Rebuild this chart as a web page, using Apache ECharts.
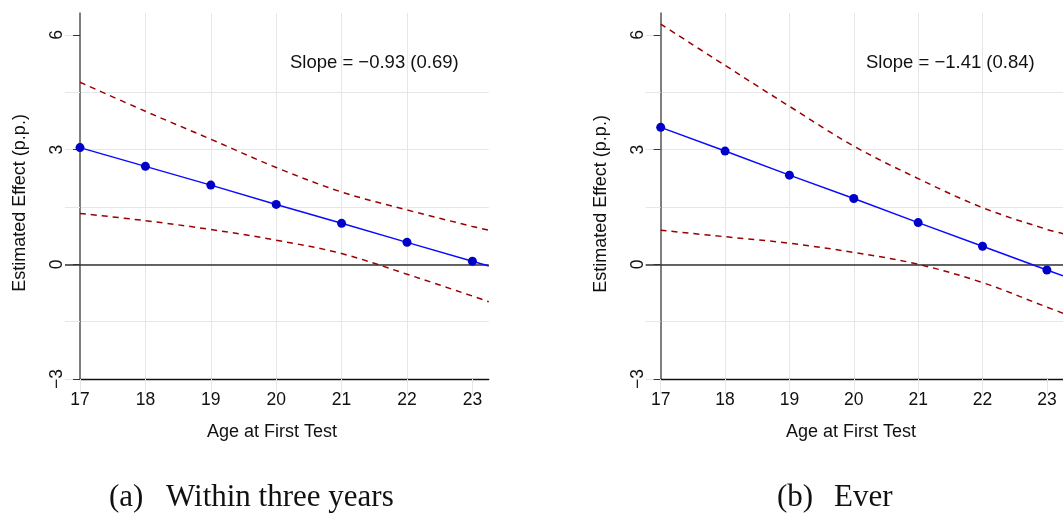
<!DOCTYPE html>
<html>
<head>
<meta charset="utf-8">
<script src="https://cdn.jsdelivr.net/npm/echarts@6/dist/echarts.min.js"></script>
<style>
  html, body { margin: 0; padding: 0; background: #ffffff; }
  #chart { width: 1063px; height: 513px; }
</style>
</head>
<body>
<div id="chart"></div>
<script>
// Ages at first test (x axis) and the right end of each x axis
const ages = [17, 18, 19, 20, 21, 22, 23];
const xEdge = 23.25;
const yTicks = [-3, 0, 3, 6];
const yGrid = [-3, -1.5, 0, 1.5, 3, 4.5, 6];

// Panel (a): within three years
const estA = [3.05, 2.56, 2.07, 1.565, 1.07, 0.573, 0.08];
const estAEdge = -0.045;
const upperA = [4.76, 4.00, 3.27, 2.53, 1.89, 1.42, 0.99];
const upperAEdge = 0.89;
const lowerA = [1.33, 1.14, 0.91, 0.63, 0.28, -0.26, -0.83];
const lowerAEdge = -0.98;
const slopeA = 'Slope = \u22120.93 (0.69)';

// Panel (b): ever
const estB = [3.58, 2.96, 2.33, 1.72, 1.09, 0.47, -0.15];
const estBEdge = -0.30;
const upperB = [6.28, 5.20, 4.13, 3.09, 2.24, 1.48, 0.91];
const upperBEdge = 0.80;
const lowerB = [0.89, 0.72, 0.55, 0.31, 0.00, -0.48, -1.12];
const lowerBEdge = -1.28;
const slopeB = 'Slope = \u22121.41 (0.84)';

const SANS = 'Liberation Sans, Arial, Helvetica, sans-serif';
const SERIF = 'Liberation Serif, Times New Roman, serif';
const GRID_COLOR = '#e6e6e6';

const Y_MIN = -3, Y_MAX = 6.57;

function pairs(vals, edge) {
  const out = ages.map((a, i) => [a, vals[i]]);
  out.push([xEdge, edge]);
  return out;
}

function xAxesFor(g) {
  return [
    {
      type: 'value', gridIndex: g, min: 17, max: xEdge, interval: 1, position: 'bottom',
      axisLine: { show: true, onZero: false, lineStyle: { color: '#111', width: 1.3 } },
      axisTick: { show: true, customValues: ages, length: 8, lineStyle: { color: '#444', width: 1 } },
      axisLabel: { show: true, customValues: ages, margin: 12, fontSize: 17.5, color: '#111', fontFamily: SANS },
      splitLine: { show: true, showMinLine: false, showMaxLine: false, lineStyle: { color: GRID_COLOR, width: 1 } }
    },
    {
      type: 'value', gridIndex: g, min: 17, max: xEdge, interval: 1, position: 'bottom',
      axisLine: { show: false, onZero: false },
      axisTick: { show: true, customValues: ages, length: 15, lineStyle: { color: GRID_COLOR, width: 1 } },
      axisLabel: { show: false },
      splitLine: { show: false }
    }
  ];
}

function yAxesFor(g) {
  return [
    {
      type: 'value', gridIndex: g, min: Y_MIN, max: Y_MAX, interval: 1.5, position: 'left',
      axisLine: { show: true, onZero: false, lineStyle: { color: '#555', width: 1.5 } },
      axisTick: { show: true, customValues: yGrid, length: 15, lineStyle: { color: GRID_COLOR, width: 1 } },
      axisLabel: { show: false },
      splitLine: { show: true, showMinLine: false, showMaxLine: false, lineStyle: { color: GRID_COLOR, width: 1 } }
    },
    {
      type: 'value', gridIndex: g, min: Y_MIN, max: Y_MAX, interval: 1.5, position: 'left',
      axisLine: { show: false, onZero: false },
      axisTick: { show: true, customValues: yTicks, length: 7, lineStyle: { color: '#333', width: 1 } },
      axisLabel: { show: true, customValues: yTicks, rotate: 90, margin: 14, fontSize: 17.5, color: '#111', fontFamily: SANS,
        formatter: v => (v < 0 ? '\u2212' + Math.abs(v) : String(v)) },
      splitLine: { show: false }
    },
    {
      type: 'value', gridIndex: g, min: Y_MIN, max: Y_MAX, interval: 1.5, position: 'left',
      axisLine: { show: false, onZero: false },
      axisTick: { show: true, customValues: [0], length: 15, lineStyle: { color: '#333', width: 1.5 } },
      axisLabel: { show: false },
      splitLine: { show: false }
    }
  ];
}

function panelSeries(xi, yi, est, estEdge, upper, upperEdge, lower, lowerEdge, slopeText) {
  const fitData = ages.map((a, i) => [a, est[i]]);
  fitData.push({ value: [xEdge, estEdge], symbol: 'none' });
  const dashed = { color: '#9b0000', width: 1.5, type: [6, 5] };
  return [
    {
      type: 'line', xAxisIndex: xi, yAxisIndex: yi, data: pairs(upper, upperEdge),
      symbol: 'none', smooth: 0.35, lineStyle: dashed, z: 3, silent: true
    },
    {
      type: 'line', xAxisIndex: xi, yAxisIndex: yi, data: pairs(lower, lowerEdge),
      symbol: 'none', smooth: 0.35, lineStyle: dashed, z: 3, silent: true
    },
    {
      type: 'line', xAxisIndex: xi, yAxisIndex: yi, data: fitData,
      symbol: 'circle', symbolSize: 9, showAllSymbol: true,
      itemStyle: { color: '#0000c8', borderWidth: 0 },
      lineStyle: { color: '#0a0aff', width: 1.5 },
      z: 5, silent: true,
      markLine: {
        silent: true, symbol: 'none', z: 2,
        lineStyle: { color: '#333', width: 1.5, type: 'solid' },
        label: { show: false },
        data: [{ yAxis: 0 }]
      },
      markPoint: {
        silent: true,
        data: [{
          coord: [21.5, 5.27], symbol: 'circle', symbolSize: 0,
          label: { show: true, position: 'inside', formatter: slopeText, color: '#111', fontSize: 18.5, fontFamily: SANS }
        }]
      }
    }
  ];
}

function txt(x, y, text, font, rot) {
  return {
    type: 'text', x: x, y: y, rotation: rot || 0, silent: true,
    style: { text: text, font: font, fill: '#111', textAlign: 'center', textVerticalAlign: 'middle' }
  };
}
function txtLeft(x, y, text, font) {
  return {
    type: 'text', x: x, y: y, silent: true,
    style: { text: text, font: font, fill: '#111', textAlign: 'left', textVerticalAlign: 'middle' }
  };
}

const chart = echarts.init(document.getElementById('chart'), null, { renderer: 'canvas' });

const option = {
  backgroundColor: '#ffffff',
  animation: false,
  grid: [
    { left: 80, top: 13, width: 408.75, height: 366, containLabel: false },
    { left: 660.7, top: 13, width: 408.75, height: 366, containLabel: false }
  ],
  xAxis: [...xAxesFor(0), ...xAxesFor(1)],
  yAxis: [...yAxesFor(0), ...yAxesFor(1)],
  series: [
    ...panelSeries(0, 0, estA, estAEdge, upperA, upperAEdge, lowerA, lowerAEdge, slopeA),
    ...panelSeries(2, 3, estB, estBEdge, upperB, upperBEdge, lowerB, lowerBEdge, slopeB)
  ],
  graphic: [
    txt(20, 203, 'Estimated Effect (p.p.)', '18px ' + SANS, Math.PI / 2),
    txt(601, 204, 'Estimated Effect (p.p.)', '18px ' + SANS, Math.PI / 2),
    txt(272, 432, 'Age at First Test', '18px ' + SANS),
    txt(851, 432, 'Age at First Test', '18px ' + SANS),
    txtLeft(109, 498, '(a)', '31px ' + SERIF),
    txtLeft(166, 498, 'Within three years', '31px ' + SERIF),
    txtLeft(777, 498, '(b)', '31px ' + SERIF),
    txtLeft(834, 498, 'Ever', '31px ' + SERIF)
  ]
};

chart.setOption(option);
</script>
</body>
</html>
